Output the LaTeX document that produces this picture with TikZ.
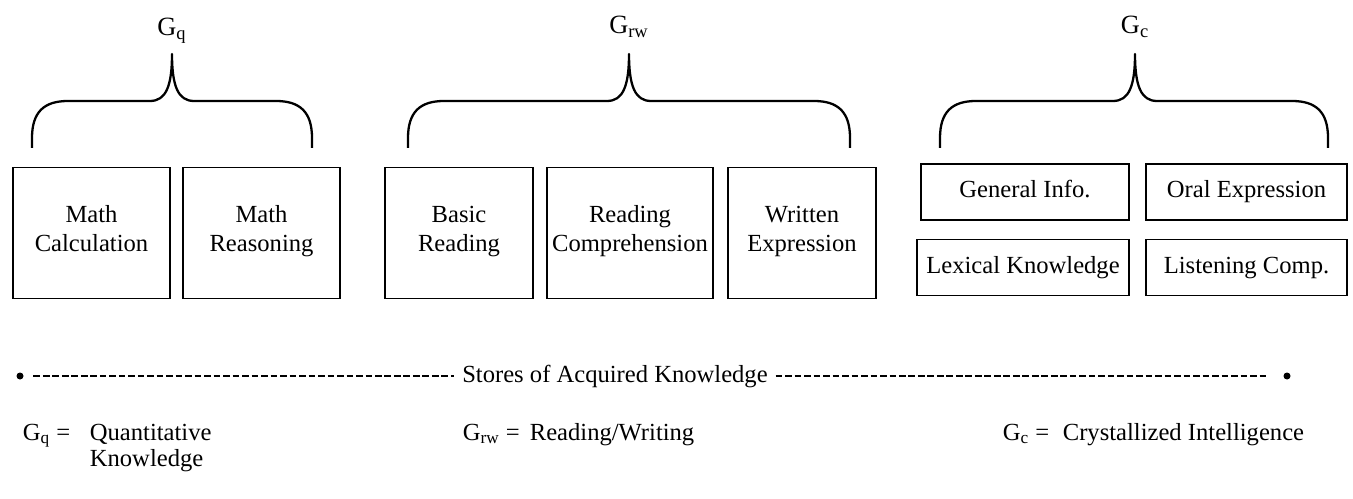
\documentclass[tikz,border=0pt]{standalone}
\usepackage{fontspec}
\setmainfont{Liberation Serif}

\begin{document}
\begin{tikzpicture}[x=0.2mm, y=-0.2mm, line width=1pt,
  every node/.style={font=\fontsize{14}{16.5}\selectfont},
  skill/.style={draw, align=center, inner sep=0pt, minimum height=2.62cm,
    execute at begin node=\strut, execute at end node=\strut},
  info/.style={draw, align=center, inner sep=0pt, minimum height=1.12cm,
    execute at begin node=\strut},
  brace/.style={line width=1.3pt, line join=round},
  gname/.style={anchor=base, inner sep=0pt, font=\fontsize{15}{17}\selectfont},
  key/.style={anchor=base west, inner sep=0pt},
  dot/.style={circle, fill, inner sep=0pt, minimum size=0.14cm},
  storeline/.style={line width=1.3pt, dash pattern=on 3.8pt off 1.6pt}]
  \useasboundingbox (0,0) rectangle (1353,499);

  % Group names and braces
  \node[gname] (gq)  at (172,36)  {G\textsubscript{q}};
  \node[gname] (grw) at (629,34)  {G\textsubscript{rw}};
  \node[gname] (gc)  at (1135,34) {G\textsubscript{c}};
  \foreach \l/\m/\r in {32/172/312, 408/629/850, 940/1135/1328}{
    \draw[brace] (\l,148) -- (\l,138) .. controls (\l,112) and ({\l+12},101) .. ({\l+36},101)
      -- ({\m-22},101) .. controls ({\m-6},101) and (\m,86) .. (\m,54)
      .. controls (\m,86) and ({\m+6},101) .. ({\m+22},101)
      -- ({\r-36},101) .. controls ({\r-12},101) and (\r,112) .. (\r,138) -- (\r,148);
  };

  % Boxes
  \node[skill, minimum width=3.14cm] (mcalc) at (91.5,233) {Math\\Calculation};
  \node[skill, minimum width=3.14cm] (mreas) at (261.5,233) {Math\\Reasoning};
  \node[skill, minimum width=2.96cm] (bread) at (459,233)  {Basic\\Reading};
  \node[skill, minimum width=3.32cm] (rcomp) at (630,233)  {Reading\\Comprehension};
  \node[skill, minimum width=2.96cm] (wexpr) at (802,233)  {Written\\Expression};

  \node[info, minimum width=4.16cm] (ginfo) at (1025,192)    {General Info.};
  \node[info, minimum width=4.02cm] (oexpr) at (1246.5,192)  {Oral Expression};
  \node[info, minimum width=4.24cm] (lexic) at (1023,267.5)  {Lexical Knowledge};
  \node[info, minimum width=4.02cm] (lcomp) at (1246.5,267.5) {Listening Comp.};

  % Stores line
  \node[dot] (ldot) at (20,376) {};
  \node[dot] (rdot) at (1287,376) {};
  \node[inner sep=4pt] (stores) at (615,376) {Stores of Acquired Knowledge};
  \draw[storeline, shorten <=0.18cm] (ldot) -- (stores);
  \draw[storeline, shorten >=0.3cm]  (stores) -- (rdot);

  % Key
  \node[key] (kq)    at (22,440)   {G\textsubscript{q} =};
  \node[key] (kqtxt) at (89,440)   {Quantitative};
  \node[key] (kqsub) at (89,466)   {Knowledge};
  \node[key] (krw)   at (462,440)  {G\textsubscript{rw} =};
  \node[key] (krwtxt) at (529,440) {Reading/Writing};
  \node[key] (kc)    at (1002,440) {G\textsubscript{c} =};
  \node[key] (kctxt) at (1062,440) {Crystallized Intelligence};

\end{tikzpicture}
\end{document}
